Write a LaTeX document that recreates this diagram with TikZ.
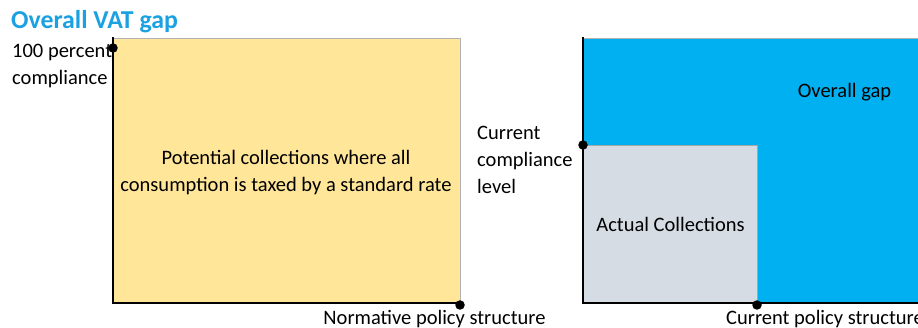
\documentclass[tikz,border=0pt]{standalone}
\usepackage{fontspec}
\setmainfont{Carlito}
\usetikzlibrary{positioning}
\definecolor{titleblue}{RGB}{27,161,226}
\definecolor{potyellow}{RGB}{255,230,153}
\definecolor{gapblue}{RGB}{0,176,240}
\definecolor{actgray}{RGB}{214,220,228}
\begin{document}
\begin{tikzpicture}[x=1pt,y=-1pt,
  every node/.style={font=\fontsize{20.5}{27}\selectfont,inner sep=0pt},
  area/.style={draw=black!30,line width=1.2pt,anchor=north west,align=center},
  axis/.style={line width=2.2pt,line cap=rect},
  dot/.style={circle,fill=black,minimum size=9.5pt}]
\useasboundingbox (0,0) rectangle (918,328);
\clip (0,0) rectangle (918,328);
\node[font=\bfseries\fontsize{25.8}{28}\selectfont,text=titleblue,anchor=west] (title) at (11,22) {Overall VAT gap};
% left panel
\node[area,fill=potyellow,minimum width=347pt,minimum height=264pt] (pot) at (113,38) {};
\node[align=center] (pottxt) at (286,173) {Potential collections where all\\consumption is taxed by a standard rate};
\draw[axis] (pot.north west)--(pot.south west)--(pot.south east);
\node[dot] (fullpt) at (113,48) {};
\node[dot] (normpt) at (460,305) {};
\node[anchor=west,align=left] (fulllbl) at (12,66) {100 percent\\compliance};
\node (normlbl) at (434.5,319) {Normative policy structure};
% right panel
\node[area,fill=gapblue,minimum width=345pt,minimum height=264pt] (gap) at (583,38) {};
\node (gaptxt) at (844.5,92) {Overall gap};
\node[area,draw=black!35,fill=actgray,minimum width=174pt,minimum height=157pt] (act) at (583,145) {Actual Collections};
\draw[axis] (gap.north west)--(gap.south west)--(gap.south east);
\node[dot] (curpt) at (583,145) {};
\node[dot] (polpt) at (757,305) {};
\node[anchor=west,align=left] (curlbl) at (477,160) {Current\\compliance\\level};
\node[anchor=west] (pollbl) at (726,319) {Current policy structure};
\end{tikzpicture}
\end{document}
